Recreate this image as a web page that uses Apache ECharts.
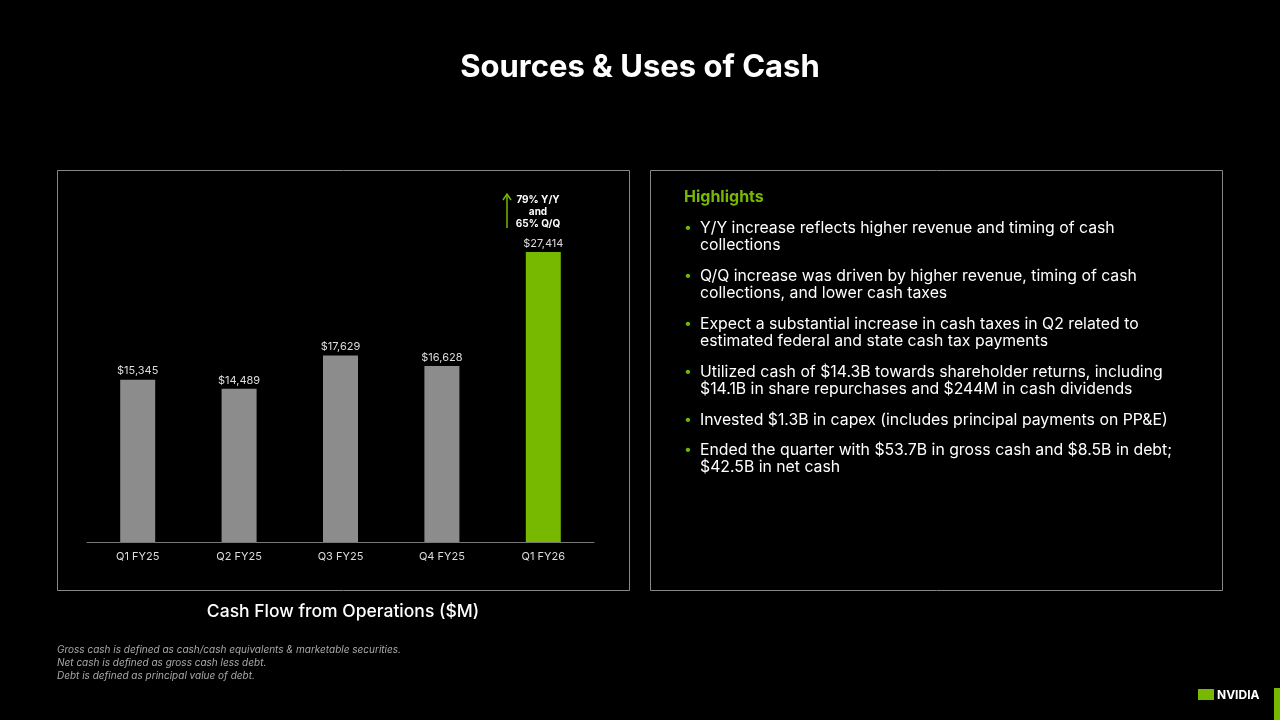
<!DOCTYPE html>
<html>
<head>
<meta charset="utf-8">
<script src="https://cdn.jsdelivr.net/npm/echarts@6/dist/echarts.min.js"></script>
<style>
html, body { margin: 0; padding: 0; background: #000; }
#main { width: 1280px; height: 720px; }
</style>
</head>
<body>
<div id="main"></div>
<script>
var quarters = ['Q1 FY25', 'Q2 FY25', 'Q3 FY25', 'Q4 FY25', 'Q1 FY26'];
var cashFlow = [15345, 14489, 17629, 16628, 27414];
var highlights = [
    ['Y/Y increase reflects higher revenue and timing of cash', 'collections'],
    ['Q/Q increase was driven by higher revenue, timing of cash', 'collections, and lower cash taxes'],
    ['Expect a substantial increase in cash taxes in Q2 related to', 'estimated federal and state cash tax payments'],
    ['Utilized cash of $14.3B towards shareholder returns, including', '$14.1B in share repurchases and $244M in cash dividends'],
    ['Invested $1.3B in capex (includes principal payments on PP&E)'],
    ['Ended the quarter with $53.7B in gross cash and $8.5B in debt;', '$42.5B in net cash']
];
var footnotes = [
    'Gross cash is defined as cash/cash equivalents & marketable securities.',
    'Net cash is defined as gross cash less debt.',
    'Debt is defined as principal value of debt.'
];

var font = 'Inter, "Noto Sans", sans-serif';
var green = '#76b900';

var graphics = [
    { type: 'rect', shape: { x: 57.5, y: 170.5, width: 572, height: 420 }, style: { fill: 'none', stroke: '#888', lineWidth: 1 } },
    { type: 'rect', shape: { x: 650.5, y: 170.5, width: 572, height: 420 }, style: { fill: 'none', stroke: '#888', lineWidth: 1 } },
    { type: 'text', x: 640, y: 68, style: { text: 'Sources & Uses of Cash', fill: '#fff', font: 'bold 31px ' + font, textAlign: 'center', textVerticalAlign: 'middle' } },
    { type: 'text', x: 343, y: 612, style: { text: 'Cash Flow from Operations ($M)', fill: '#fff', font: '500 17.5px ' + font, textAlign: 'center', textVerticalAlign: 'middle' } },
    { type: 'line', shape: { x1: 507, y1: 228, x2: 507, y2: 195 }, style: { stroke: green, lineWidth: 1.5 } },
    { type: 'polyline', shape: { points: [[503, 200], [507, 194], [511, 200]] }, style: { stroke: green, lineWidth: 1.5, fill: 'none' } },
    { type: 'text', x: 538, y: 212, style: { text: '79% Y/Y\nand\n65% Q/Q', fill: '#fff', font: 'bold 10px ' + font, textAlign: 'center', textVerticalAlign: 'middle', lineHeight: 12 } },
    { type: 'text', x: 684, y: 197, style: { text: 'Highlights', fill: green, font: 'bold 16px ' + font, textVerticalAlign: 'middle' } },
    { type: 'text', x: 1217, y: 695, style: { text: 'NVIDIA', fill: '#fff', font: 'bold 12px ' + font, textVerticalAlign: 'middle' } },
    { type: 'rect', shape: { x: 1198, y: 689, width: 16, height: 11 }, style: { fill: green } },
    { type: 'rect', shape: { x: 1274, y: 688, width: 6, height: 32 }, style: { fill: green } }
];

var y = 228;
highlights.forEach(function(item) {
    graphics.push({ type: 'text', x: 684, y: y, style: { text: '•', fill: green, font: '14px ' + font, textVerticalAlign: 'middle' } });
    graphics.push({ type: 'text', x: 700, y: y + (item.length - 1) * 8.5, style: { text: item.join('\n'), fill: '#fff', font: '15.8px ' + font, textVerticalAlign: 'middle', lineHeight: 17 } });
    y += item.length === 2 ? 48 : 30;
});

footnotes.forEach(function(t, i) {
    graphics.push({ type: 'text', x: 57, y: 650 + i * 13, style: { text: t, fill: '#aaa', font: 'italic 10px ' + font, textVerticalAlign: 'middle' } });
});

var myChart = echarts.init(document.getElementById('main'));
myChart.setOption({
    backgroundColor: '#000',
    animation: false,
    grid: { left: 87, right: 686, top: 200, bottom: 178 },
    xAxis: {
        type: 'category',
        data: quarters,
        axisLine: { lineStyle: { color: '#777' } },
        axisTick: { show: false },
        axisLabel: { color: '#ddd', fontSize: 11, fontFamily: font, margin: 9 }
    },
    yAxis: { type: 'value', min: 0, max: 32330, show: false, splitLine: { show: false } },
    series: [{
        type: 'bar',
        barWidth: 35,
        data: cashFlow.map(function(v, i) {
            return { value: v, itemStyle: { color: i === cashFlow.length - 1 ? green : '#8c8c8c' } };
        }),
        label: {
            show: true,
            position: 'top',
            distance: 3,
            color: '#ddd',
            fontSize: 11,
            fontFamily: font,
            formatter: function(p) { return '$' + p.value.toLocaleString('en-US'); }
        }
    }],
    graphic: graphics
});
</script>
</body>
</html>
